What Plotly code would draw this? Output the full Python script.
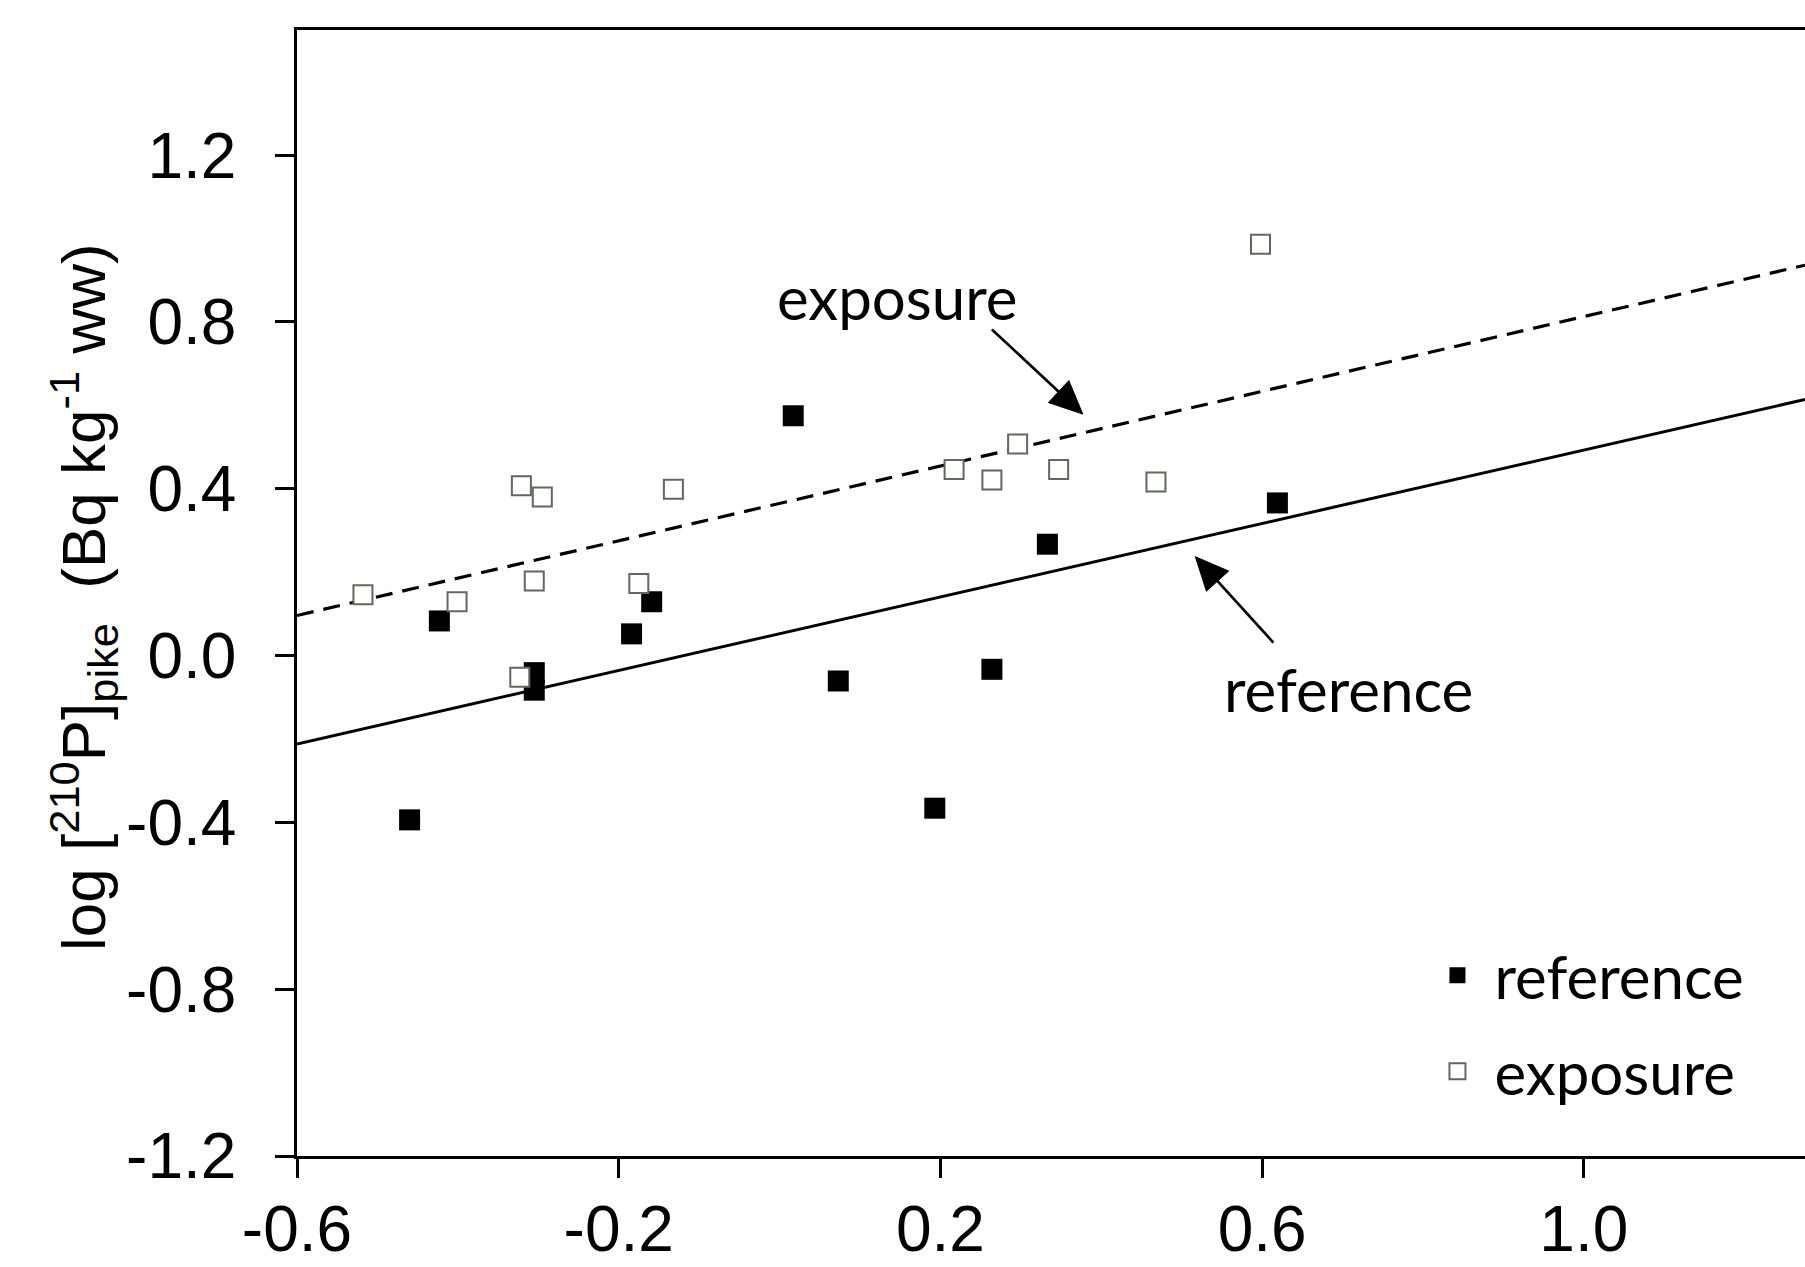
import math
import plotly.graph_objects as go

# ---- data ----
ref_x = [-0.460, -0.423, -0.305, -0.305, -0.184, -0.159, 0.017, 0.073, 0.193, 0.264, 0.333, 0.619]
ref_y = [-0.394, 0.083, -0.041, -0.083, 0.052, 0.129, 0.575, -0.061, -0.366, -0.033, 0.267, 0.366]

exp_x = [-0.518, -0.401, -0.321, -0.295, -0.305, -0.323, -0.175, -0.132, 0.217, 0.264, 0.296, 0.347, 0.468, 0.598]
exp_y = [0.146, 0.129, 0.407, 0.380, 0.179, -0.052, 0.173, 0.399, 0.446, 0.421, 0.507, 0.446, 0.416, 0.986]

fit_x = [-0.6, 1.275]
fit_ref_y = [-0.212, 0.614]
fit_exp_y = [0.096, 0.936]

x_tick_vals = [-0.6, -0.2, 0.2, 0.6, 1.0]
x_tick_text = ["-0.6", "-0.2", "0.2", "0.6", "1.0"]
y_tick_vals = [-1.2, -0.8, -0.4, 0.0, 0.4, 0.8, 1.2]
y_tick_text = ["-1.2", "-0.8", "-0.4", "0.0", "0.4", "0.8", "1.2"]

series_names = ["reference", "exposure"]

# callout labels and their arrows (tail -> head), in data units
label_text = ["exposure", "reference"]
label_x = [0.147, 0.707]
label_y = [0.860, -0.080]
arrow_tail_x = [0.264, 0.614]
arrow_tail_y = [0.782, 0.031]
arrow_head_x = [0.377, 0.517]
arrow_head_y = [0.579, 0.237]

# ---- styling / layout ----
W, H = 1805, 1267
M_L, M_R, M_T, M_B = 297, 0, 30, 111
X_RANGE = [-0.6, 1.275]
Y_RANGE = [-1.2, 1.5]

AX_FONT = "Liberation Sans, Arial, sans-serif"
TXT_FONT = "Lato, Carlito, Calibri, sans-serif"

fig = go.Figure()

fig.add_trace(go.Scatter(x=fit_x, y=fit_ref_y, mode="lines",
                         line=dict(color="black", width=3), showlegend=False, hoverinfo="skip"))
fig.add_trace(go.Scatter(x=fit_x, y=fit_exp_y, mode="lines",
                         line=dict(color="black", width=3.2, dash="17px,10px"), showlegend=False, hoverinfo="skip"))

fig.add_trace(go.Scatter(x=ref_x, y=ref_y, mode="markers", name=series_names[0], legendgroup="g1",
                         marker=dict(symbol="square", size=21, color="black",
                                     line=dict(color="black", width=0))))
fig.add_trace(go.Scatter(x=exp_x, y=exp_y, mode="markers", name=series_names[1], legendgroup="g2",
                         marker=dict(symbol="square", size=19, color="white",
                                     line=dict(color="#5f6b5a", width=2))))

axis_common = dict(showline=True, linecolor="black", linewidth=2.6, ticks="outside",
                   ticklen=19, tickwidth=2.6, tickcolor="black", showgrid=False, zeroline=False,
                   automargin=False,
                   tickfont=dict(family=AX_FONT, size=64, color="black"))

fig.update_xaxes(range=X_RANGE, tickvals=x_tick_vals, ticktext=x_tick_text,
                 mirror=True, ticklabelstandoff=-4, **axis_common)
fig.update_yaxes(range=Y_RANGE, tickvals=y_tick_vals, ticktext=y_tick_text,
                 mirror=False, ticklabelstandoff=26, **axis_common)

annotations = [
    dict(text="log [<sup>210</sup>P]<sub>pike</sub>\u00a0 (Bq kg<sup>-1</sup> ww)",
         xref="paper", yref="paper", x=-0.142, y=0.4964, xanchor="center", yanchor="middle",
         textangle=-90, showarrow=False, font=dict(family=AX_FONT, size=62, color="black")),
]
for t, lx, ly in zip(label_text, label_x, label_y):
    annotations.append(dict(text=t, x=lx, y=ly, xref="x", yref="y", showarrow=False,
                            xanchor="center", yanchor="middle",
                            font=dict(family=TXT_FONT, size=60, color="black")))

# arrows drawn as shapes (shaft line + filled triangular head)
plot_w = W - M_L - M_R
plot_h = H - M_T - M_B
sx = plot_w / (X_RANGE[1] - X_RANGE[0])
sy = plot_h / (Y_RANGE[1] - Y_RANGE[0])
HEAD_LEN, HEAD_W = 33, 30
shapes = []
for tx, ty, hx, hy in zip(arrow_tail_x, arrow_tail_y, arrow_head_x, arrow_head_y):
    dx, dy = (hx - tx) * sx, (hy - ty) * sy
    L = math.hypot(dx, dy)
    ux, uy = dx / L, dy / L
    nx, ny = -uy, ux
    bx_px, by_px = -ux * HEAD_LEN, -uy * HEAD_LEN
    bx, by = hx + bx_px / sx, hy + by_px / sy
    c1x = hx + (bx_px + nx * HEAD_W / 2) / sx
    c1y = hy + (by_px + ny * HEAD_W / 2) / sy
    c2x = hx + (bx_px - nx * HEAD_W / 2) / sx
    c2y = hy + (by_px - ny * HEAD_W / 2) / sy
    shapes.append(dict(type="line", xref="x", yref="y", x0=tx, y0=ty, x1=bx + (ux * 2) / sx, y1=by + (uy * 2) / sy,
                       line=dict(color="black", width=2.7)))
    shapes.append(dict(type="path", xref="x", yref="y",
                       path=f"M {hx},{hy} L {c1x},{c1y} L {c2x},{c2y} Z",
                       fillcolor="black", line=dict(color="black", width=1)))

fig.update_layout(
    width=W, height=H,
    margin=dict(l=M_L, r=M_R, t=M_T, b=M_B, autoexpand=False),
    paper_bgcolor="white", plot_bgcolor="white",
    showlegend=True,
    legend=dict(x=0.745, y=0.201, xanchor="left", yanchor="top",
                font=dict(family=TXT_FONT, size=60, color="black"),
                bgcolor="rgba(0,0,0,0)", tracegroupgap=15, itemwidth=64),
    annotations=annotations,
    shapes=shapes,
)

fig.write_html("out.html", config={"displayModeBar": False},
               post_script="document.body.style.margin='0';")
